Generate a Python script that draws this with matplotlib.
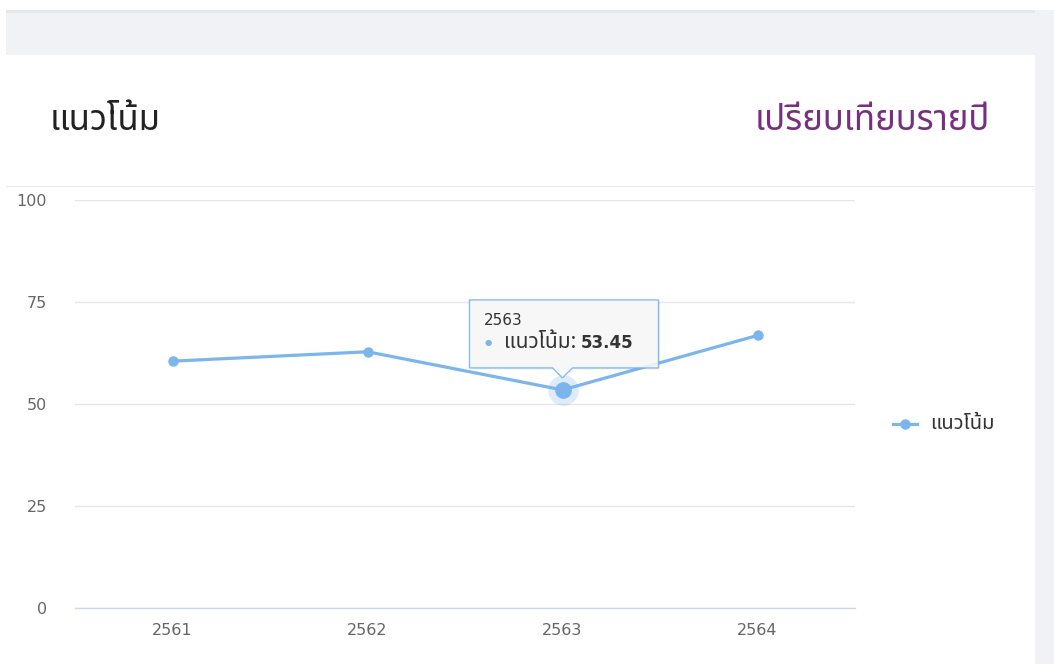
import matplotlib
matplotlib.use('Agg')
import matplotlib.pyplot as plt
from matplotlib import font_manager
from matplotlib.ft2font import FT2Font
from matplotlib.patches import Rectangle, FancyBboxPatch, Polygon
from matplotlib.lines import Line2D

# data
years = ['2561', '2562', '2563', '2564']
trend = [60.5, 62.8, 53.45, 66.8]
series_name = 'แนวโน้ม'
title_left = 'แนวโน้ม'
title_right = 'เปรียบเทียบรายปี'
yticks = [0, 25, 50, 75, 100]
hover_idx = 2


def find_thai_font():
    preferred = ['Noto Sans Thai', 'Noto Sans Thai UI', 'Kanit', 'Prompt', 'Sarabun',
                 'Loma', 'Garuda', 'Waree', 'Norasi', 'Tlwg Typo', 'Tahoma', 'FreeSans']
    found = []
    for f in font_manager.fontManager.ttflist:
        try:
            ft = FT2Font(f.fname)
            if 0x0E19 in ft.get_charmap():
                found.append(f.name)
        except Exception:
            pass
    for p in preferred:
        if p in found:
            return p
    return found[0] if found else None


thai = find_thai_font()
fams = ([thai] if thai else []) + ['DejaVu Sans']
plt.rcParams['font.family'] = fams
latin = ['DejaVu Sans']

W, H = 1054, 664
fig = plt.figure(figsize=(W / 100, H / 100), dpi=100)
fig.patch.set_facecolor('white')


def px(x, y, w, h, **kw):
    # rectangle given in image pixels (top-left origin)
    fig.patches.append(Rectangle((x / W, 1 - (y + h) / H), w / W, h / H,
                                 transform=fig.transFigure, **kw))


# page background / card
px(6, 10, 1048, 45, facecolor='#f1f2f6', edgecolor='none', zorder=0)
px(6, 10, 1030, 3, facecolor='#e6e7eb', edgecolor='none', zorder=0)
px(1035, 10, 19, 654, facecolor='#f1f2f6', edgecolor='none', zorder=0)
px(6, 186, 1029, 1.2, facecolor='#e8e8e8', edgecolor='none', zorder=0)

fig.text(50 / W, 1 - 121 / H, title_left, fontsize=25, color='#222222',
         ha='left', va='center', fontweight='light')
fig.text(990 / W, 1 - 121 / H, title_right, fontsize=25, color='#76307f',
         ha='right', va='center', fontweight='light')

# plot area
ax = fig.add_axes([75 / W, 1 - 608 / H, 780 / W, 408 / H])
ax.set_facecolor('none')
x = list(range(len(years)))
line_color = '#7cb5ec'
ax.plot(x, trend, color=line_color, lw=2.3, marker='o', markersize=6.5,
        zorder=3, solid_capstyle='round')
ax.set_xlim(-0.5, len(years) - 0.5)
ax.set_ylim(0, 100)
ax.set_yticks(yticks)
ax.set_xticks(x)
ax.set_xticklabels(years)
ax.grid(axis='y', color='#e6e6e6', lw=1)
for s in ['top', 'right', 'left']:
    ax.spines[s].set_visible(False)
ax.spines['bottom'].set_color('#ccd6eb')
ax.spines['bottom'].set_linewidth(1)
ax.tick_params(axis='both', length=0, colors='#666666', labelsize=11.5)
ax.tick_params(axis='y', pad=20)
ax.tick_params(axis='x', pad=11)
for lab in ax.get_xticklabels() + ax.get_yticklabels():
    lab.set_family(latin)
ax.set_axisbelow(True)

# hovered point with halo
hx, hy = x[hover_idx], trend[hover_idx]
ax.plot([hx], [hy], 'o', markersize=22, color=line_color, alpha=0.25,
        markeredgewidth=0, zorder=4)
ax.plot([hx], [hy], 'o', markersize=11, color=line_color, zorder=5)

# tooltip positioned from the hovered point (pixel offsets)
fig.canvas.draw()
renderer = fig.canvas.get_renderer()
dx, dy = ax.transData.transform((hx, hy))
bl, br = dx - 93, dx + 96
bb, bt = dy + 22, dy + 90
tip = dy + 12


def d2f(a, b):
    return (a / W, b / H)


shadow = FancyBboxPatch(d2f(bl + 1.5, bb - 1.5), (br - bl) / W, (bt - bb) / H,
                        boxstyle='round,pad=0,rounding_size=0.003',
                        transform=fig.transFigure, facecolor='#000000',
                        alpha=0.07, edgecolor='none', zorder=9)
fig.patches.append(shadow)
box = Polygon([d2f(bl, bb), d2f(dx - 10, bb), d2f(dx, tip), d2f(dx + 10, bb),
               d2f(br, bb), d2f(br, bt), d2f(bl, bt)], closed=True,
              transform=fig.transFigure, facecolor='#f9f9f9', alpha=0.9,
              edgecolor=line_color, lw=1, zorder=10)
fig.patches.append(box)
fig.text((bl + 14) / W, (bt - 21) / H, years[hover_idx], fontsize=11,
         color='#333333', ha='left', va='center', zorder=11, family=latin)
fig.text((bl + 15) / W, (bt - 43) / H, '●', fontsize=6, color=line_color,
         ha='left', va='center', zorder=11, family=latin)
lab = fig.text((bl + 34) / W, (bt - 43) / H, series_name + ': ', fontsize=15,
               color='#333333', ha='left', va='center', zorder=11)
ext = lab.get_window_extent(renderer)
fig.text(ext.x1 / W, (bt - 43) / H, f'{trend[hover_idx]:.2f}', fontsize=12,
         color='#333333', ha='left', va='center', zorder=11, family=latin,
         fontweight='bold')

# legend
ly = 664 - 424
fig.add_artist(Line2D([893 / W, 917 / W], [ly / H, ly / H], color=line_color,
                      lw=2.3, transform=fig.transFigure))
fig.add_artist(Line2D([905 / W], [ly / H], color=line_color, marker='o',
                      markersize=6.5, transform=fig.transFigure))
fig.text(930 / W, ly / H, series_name, fontsize=14.5, color='#333333',
         ha='left', va='center')

fig.savefig('out.png', dpi=100)
